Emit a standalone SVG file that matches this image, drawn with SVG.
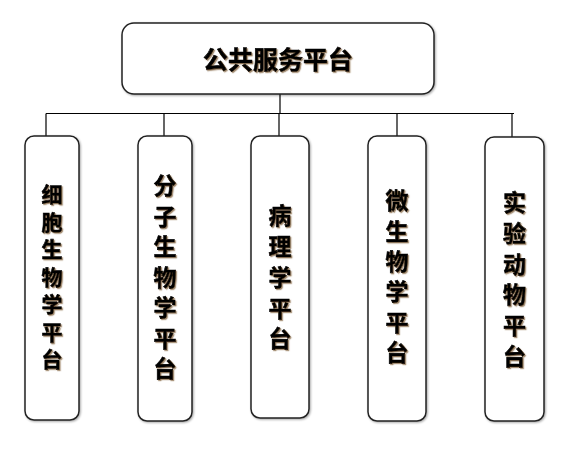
<svg xmlns="http://www.w3.org/2000/svg" width="585" height="456" viewBox="0 0 585 456">
<defs>
<filter id="bs" x="-20%" y="-20%" width="140%" height="140%">
<feDropShadow dx="1" dy="1" stdDeviation="0.8" flood-color="#000" flood-opacity="0.35"/>
</filter>
<filter id="ts" x="-20%" y="-20%" width="140%" height="140%">
<feDropShadow dx="1.2" dy="1.2" stdDeviation="0.6" flood-color="#7a5a30" flood-opacity="0.7"/>
</filter>
</defs>
<style>
.box{fill:#fff;stroke:#222;stroke-width:1.5;filter:url(#bs)}
.lbl{font-family:"Noto Sans CJK SC","Noto Sans CJK JP",sans-serif;font-weight:bold;fill:#000;stroke:#000;stroke-width:0.6;filter:url(#ts)}
.mid{text-anchor:middle}
.col{writing-mode:vertical-rl;text-orientation:upright;text-anchor:start}
.con{stroke:#000;stroke-width:1.2;fill:none}
</style>
<rect width="585" height="456" fill="#fff"/>
<g id="connectors">
<path class="con" d="M280,94V113.5M46,113.5H514M46,113.5V136M164,113.5V136M279,113.5V136M397,113.5V136M512,113.5V137"/>
</g>
<g id="root">
<rect class="box" x="122" y="23" width="312" height="71" rx="12"/>
<text class="lbl mid" x="278" y="69" font-size="25">公共服务平台</text>
</g>
<g id="n1">
<rect class="box" x="25" y="136" width="54" height="284" rx="9"/>
<text class="lbl col" x="52" y="184" font-size="21" letter-spacing="6.5">细胞生物学平台</text>
</g>
<g id="n2">
<rect class="box" x="138" y="136" width="54" height="285" rx="9"/>
<text class="lbl col" x="165" y="174" font-size="23" letter-spacing="7.5">分子生物学平台</text>
</g>
<g id="n3">
<rect class="box" x="251" y="136" width="58" height="282" rx="9"/>
<text class="lbl col" x="280" y="204" font-size="23" letter-spacing="7.8">病理学平台</text>
</g>
<g id="n4">
<rect class="box" x="368" y="136" width="58" height="285" rx="9"/>
<text class="lbl col" x="397" y="189" font-size="23" letter-spacing="7.4">微生物学平台</text>
</g>
<g id="n5">
<rect class="box" x="485" y="137" width="59" height="284" rx="9"/>
<text class="lbl col" x="514.5" y="191" font-size="23" letter-spacing="7.7">实验动物平台</text>
</g>
</svg>
